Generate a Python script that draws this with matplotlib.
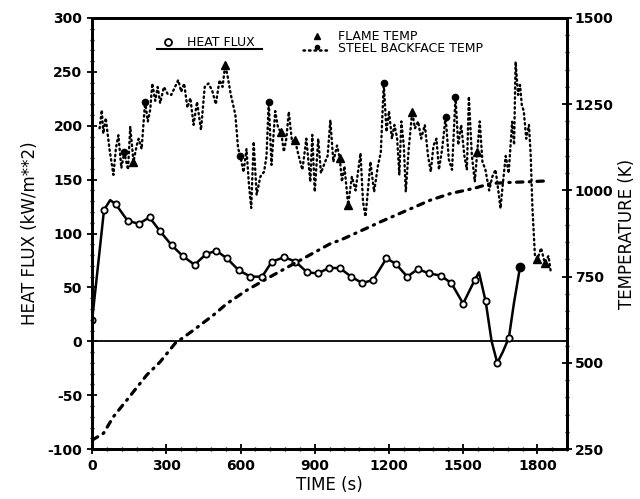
import matplotlib
matplotlib.use("Agg")
import matplotlib.pyplot as plt
from matplotlib.lines import Line2D

plt.rcParams['font.family'] = ['DejaVu Sans']
plt.rcParams['axes.unicode_minus'] = False

# ---- data ----
hf_t = [0, 48, 73, 96, 143, 188, 232, 275, 322, 367, 414, 461, 502, 545, 592, 640, 687, 727,
        777, 822, 869, 912, 957, 1001, 1047, 1092, 1136, 1190, 1227, 1274, 1317, 1362, 1409,
        1452, 1500, 1547, 1564, 1591, 1615, 1638, 1660, 1685, 1705, 1730]
hf_v = [20, 122, 131, 127, 112, 109, 115, 102, 89, 79, 71, 81, 84, 77, 66, 60, 60, 74,
        78, 74, 64, 63, 68, 68, 60, 54, 57, 77, 72, 60, 67, 63, 61,
        54, 35, 57, 64, 37, 0, -20, -10, 3.5, 35, 69]
hf_marker_idx = [0, 1, 3, 4, 5, 6, 7, 8, 9, 10, 11, 12, 13, 14, 15, 16, 17, 18, 19, 20, 21,
                 22, 23, 24, 25, 26, 27, 28, 29, 30, 31, 32, 33, 34, 35, 37, 39, 41]

steel_t = [0, 46, 86, 140, 221, 275, 336, 410, 491, 545, 626, 721, 842, 964, 1004, 1139,
           1166, 1368, 1449, 1544, 1611, 1679, 1766, 1847]
steel_T = [276, 296, 344, 392, 465, 503, 557, 595, 639, 672, 711, 750, 798, 846, 856, 900,
           909, 972, 991, 1006, 1020, 1023, 1025, 1028]

flame_t = [30, 39, 45, 55, 70, 86, 96, 106, 118, 130, 145, 154, 167, 180, 188, 200, 214, 225,
           235, 243, 255, 265, 275, 290, 305, 320, 335, 348, 360, 372, 385, 397, 410, 424,
           440, 455, 470, 485, 500, 515, 527, 538, 548, 560, 579, 590, 599, 612, 624, 633,
           643, 653, 665, 680, 695, 705, 714, 725, 740, 752, 764, 775, 785, 795, 808, 820,
           835, 850, 866, 882, 890, 900, 914, 925, 940, 952, 963, 975, 990, 1001, 1010, 1020,
           1035, 1050, 1065, 1085, 1095, 1105, 1115, 1125, 1140, 1155, 1167, 1179, 1190, 1200,
           1212, 1222, 1233, 1242, 1250, 1260, 1268, 1280, 1294, 1305, 1318, 1330, 1345, 1358,
           1369, 1380, 1392, 1402, 1415, 1429, 1442, 1455, 1469, 1480, 1492, 1505, 1515, 1523,
           1535, 1547, 1557, 1567, 1578, 1590, 1605, 1618, 1631, 1642, 1651, 1660, 1672, 1684,
           1698, 1706, 1712, 1722, 1730, 1737, 1745, 1755, 1766, 1773, 1780, 1790, 1800, 1815,
           1830, 1845, 1855]
flame_T = [1180, 1233, 1165, 1210, 1120, 1045, 1122, 1160, 1065, 1110, 1060, 1185, 1083, 1130,
           1150, 1120, 1257, 1200, 1235, 1310, 1260, 1300, 1253, 1300, 1280, 1277, 1300, 1320,
           1286, 1310, 1240, 1268, 1190, 1257, 1175, 1300, 1310, 1290, 1250, 1320, 1300, 1364,
           1330, 1280, 1219, 1122, 1100, 1053, 1120, 1025, 949, 1141, 987, 1040, 1054, 1100,
           1257, 1074, 1230, 1180, 1170, 1112, 1150, 1228, 1141, 1146, 1100, 1060, 1150, 1025,
           1161, 996, 1150, 1050, 1080, 1100, 1204, 1083, 1130, 1094, 1025, 1070, 958, 1040,
           1000, 1108, 967, 924, 1000, 1083, 996, 1070, 1110, 1310, 1170, 1230, 1150, 1190,
           1152, 1045, 1200, 1130, 996, 1122, 1228, 1180, 1200, 1150, 1190, 1100, 1054, 1130,
           1150, 1060, 1120, 1214, 1090, 1060, 1272, 1132, 1190, 1100, 1060, 1272, 1103, 1025,
           1112, 1200, 1083, 1060, 1000, 1040, 1060, 1000, 948, 1016, 1100, 1050, 1199, 1132,
           1373, 1277, 1306, 1248, 1230, 1150, 1190, 1103, 950, 813, 800, 833, 790, 810, 760]
flame_tri_idx = [12, 41, 60, 65, 79, 82, 104, 126, 150, 152]
flame_dot_idx = [9, 16, 46, 56, 93, 115, 118]

x_ticks = [0, 300, 600, 900, 1200, 1500, 1800]
hf_ticks = [-100, -50, 0, 50, 100, 150, 200, 250, 300]
temp_ticks = [250, 500, 750, 1000, 1250, 1500]

# ---- figure ----
fig = plt.figure(figsize=(6.40, 4.99), dpi=100)
ax = fig.add_axes([0.144, 0.100, 0.742, 0.864])
ax2 = ax.twinx()

ax.set_xlim(0, 1920)
ax.set_ylim(-100, 300)
ax2.set_ylim(250, 1500)

# temperatures
ax2.plot(steel_t, steel_T, color='black', lw=2.3, linestyle=(0, (2.0, 2.0, 0.4, 2.0)),
         dash_capstyle='round')
ax2.plot(flame_t, flame_T, color='black', lw=1.7, linestyle=(0, (0.6, 1.5)),
         dash_capstyle='round')
ax2.plot([flame_t[i] for i in flame_tri_idx], [flame_T[i] for i in flame_tri_idx],
         linestyle='none', marker='^', color='black', ms=5.5)
ax2.plot([flame_t[i] for i in flame_dot_idx], [flame_T[i] for i in flame_dot_idx],
         linestyle='none', marker='o', color='black', ms=4.5)

# heat flux
ax.axhline(0, color='black', lw=1.3)
ax.plot(hf_t, hf_v, color='black', lw=1.8, marker='o', ms=4.5, mfc='white', mec='black',
        mew=1.3, markevery=hf_marker_idx)
ax.plot([hf_t[-1]], [hf_v[-1]], marker='o', ms=6, color='black', linestyle='none')

# ticks
ax.set_xticks(x_ticks)
ax.set_xticks(range(0, 1921, 60), minor=True)
ax.set_yticks(hf_ticks)
ax.set_yticks(range(-100, 301, 10), minor=True)
ax2.set_yticks(temp_ticks)
ax2.set_yticks(range(250, 1501, 50), minor=True)
for a in (ax, ax2):
    a.tick_params(which='major', direction='inout', length=7, width=1.3, labelsize=10)
    a.tick_params(which='minor', direction='inout', length=3.5, width=1.0)
    for lab in a.get_xticklabels() + a.get_yticklabels():
        lab.set_fontweight('bold')
ax2.tick_params(axis='y', which='major', pad=2)
for s in ax.spines.values():
    s.set_linewidth(2.0)
for s in ax2.spines.values():
    s.set_linewidth(2.0)

ax.set_xlabel('TIME (s)', fontsize=12, labelpad=2)
ax.set_ylabel('HEAT FLUX (kW/m**2)', fontsize=12, labelpad=6)
ax2.set_ylabel('TEMPERATURE (K)', fontsize=12, labelpad=3)

# legend (drawn as in the original, top of the plot)
tr = ax.transAxes
ax.plot([0.16], [0.944], transform=tr, marker='o', ms=5, mfc='white', mec='black', mew=1.3)
ax.text(0.20, 0.944, 'HEAT FLUX', transform=tr, fontsize=9, va='center', ha='left')
ax.add_line(Line2D([0.137, 0.358], [0.927, 0.927], transform=tr, color='black', lw=1.5))
ax.plot([0.474], [0.958], transform=tr, marker='^', ms=5, color='black')
ax.text(0.518, 0.958, 'FLAME TEMP', transform=tr, fontsize=9, va='center', ha='left')
ax.add_line(Line2D([0.445, 0.50], [0.926, 0.926], transform=tr, color='black', lw=1.8,
                   linestyle=(0, (0.6, 1.6)), dash_capstyle='round'))
ax.plot([0.474], [0.932], transform=tr, marker='o', ms=3, color='black')
ax.text(0.518, 0.930, 'STEEL BACKFACE TEMP', transform=tr, fontsize=9, va='center', ha='left')

fig.savefig('out.png', dpi=100)
